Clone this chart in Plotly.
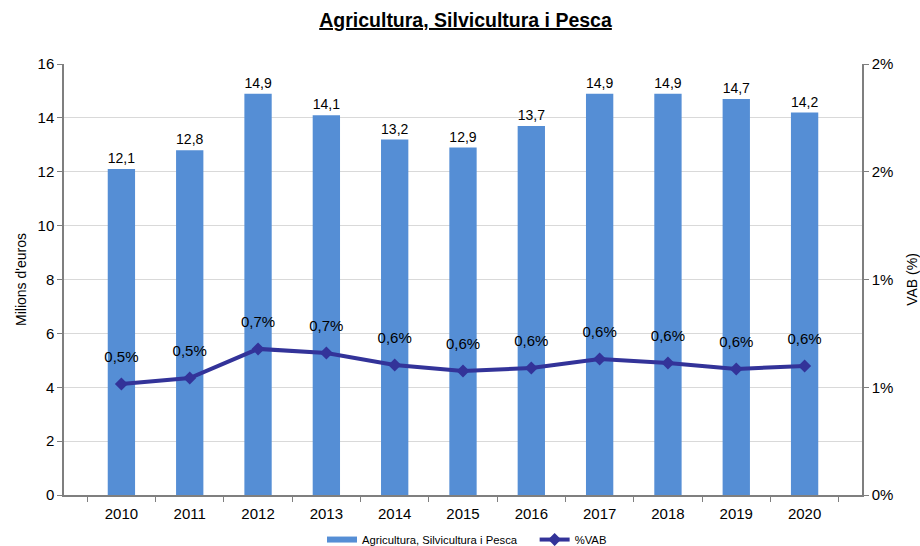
import plotly.graph_objects as go

years = ["2010", "2011", "2012", "2013", "2014", "2015", "2016", "2017", "2018", "2019", "2020"]
vab_meur = [12.1, 12.8, 14.9, 14.1, 13.2, 12.9, 13.7, 14.9, 14.9, 14.7, 14.2]
vab_pct = [0.00515, 0.00543, 0.00678, 0.00659, 0.00603, 0.00575, 0.00589, 0.00631, 0.00613, 0.00585, 0.00599]
right_tickvals = [0, 0.005, 0.01, 0.015, 0.02]
right_ticktext = ["0%", "1%", "1%", "2%", "2%"]

FONT = "Liberation Sans, Arial, sans-serif"
BAR_COLOR = "#558ED5"
LINE_COLOR = "#333399"
AXIS_COLOR = "#7F7F7F"

fig = go.Figure()
fig.add_trace(go.Bar(
    x=years, y=vab_meur, name="Agricultura, Silvicultura i Pesca",
    marker=dict(color=BAR_COLOR, line=dict(width=0)),
    text=[f"{v:.1f}".replace(".", ",") for v in vab_meur],
    textposition="outside", cliponaxis=False,
    textfont=dict(size=15, color="#000000", family=FONT),
    showlegend=False,
))
# legend entry for the bars (wide flat swatch, as in the reference)
fig.add_trace(go.Scatter(
    x=[None], y=[None], name="Agricultura, Silvicultura i Pesca&nbsp;&nbsp;&nbsp;&nbsp;",
    mode="lines", line=dict(color=BAR_COLOR, width=6),
))
fig.add_trace(go.Scatter(
    x=years, y=vab_pct, name="%VAB", yaxis="y2",
    mode="lines+markers",
    line=dict(color=LINE_COLOR, width=4),
    marker=dict(symbol="diamond", size=10, color=LINE_COLOR),
    cliponaxis=False,
))
# data labels for the line, offset above the points
fig.add_trace(go.Scatter(
    x=years, y=vab_pct, yaxis="y2", showlegend=False, hoverinfo="skip",
    mode="markers+text",
    marker=dict(size=28, color="rgba(0,0,0,0)"),
    texttemplate="%{y:.1%}", textposition="top center",
    textfont=dict(size=15, color="#000000", family=FONT),
    cliponaxis=False,
))

fig.update_layout(
    width=920, height=546,
    separators=",.",
    paper_bgcolor="white", plot_bgcolor="white",
    font=dict(family=FONT, size=15, color="#000000"),
    margin=dict(l=64, r=58, t=64, b=51, autoexpand=False),
    title=dict(text="<b><u>Agricultura, Silvicultura i Pesca</u></b>",
               x=0.506, xanchor="center", y=0.963, yanchor="middle",
               font=dict(size=19.5, family=FONT)),
    bargap=0.6,
    showlegend=True,
    legend=dict(orientation="h", x=0.505, xanchor="center", y=-0.137, yanchor="bottom",
                font=dict(size=11.3, family=FONT), itemwidth=30, tracegroupgap=0,
                bgcolor="rgba(0,0,0,0)"),
    xaxis=dict(type="category", showline=True, linecolor=AXIS_COLOR, linewidth=1.5,
               ticks="outside", tickson="boundaries", ticklen=5, tickcolor=AXIS_COLOR,
               ticklabelstandoff=4,
               showgrid=False, tickfont=dict(size=15), automargin=False),
    yaxis=dict(range=[0, 16], dtick=2, showline=True, linecolor=AXIS_COLOR, linewidth=1.5,
               ticks="outside", ticklen=5, tickcolor=AXIS_COLOR,
               gridcolor="#D9D9D9", gridwidth=1, zeroline=False,
               title=dict(text="Milions d'euros", font=dict(size=14), standoff=8),
               tickfont=dict(size=15), automargin=False),
    yaxis2=dict(range=[0, 0.02], overlaying="y", side="right",
                tickvals=right_tickvals, ticktext=right_ticktext,
                showline=True, linecolor=AXIS_COLOR, linewidth=1.5,
                ticks="outside", ticklen=5, tickcolor=AXIS_COLOR,
                showgrid=False, zeroline=False,
                title=dict(text="VAB (%)", font=dict(size=14), standoff=15),
                tickfont=dict(size=15), automargin=False),
)

fig.write_html("out.html", config={"displayModeBar": False},
               post_script="document.body.style.margin='0';")
